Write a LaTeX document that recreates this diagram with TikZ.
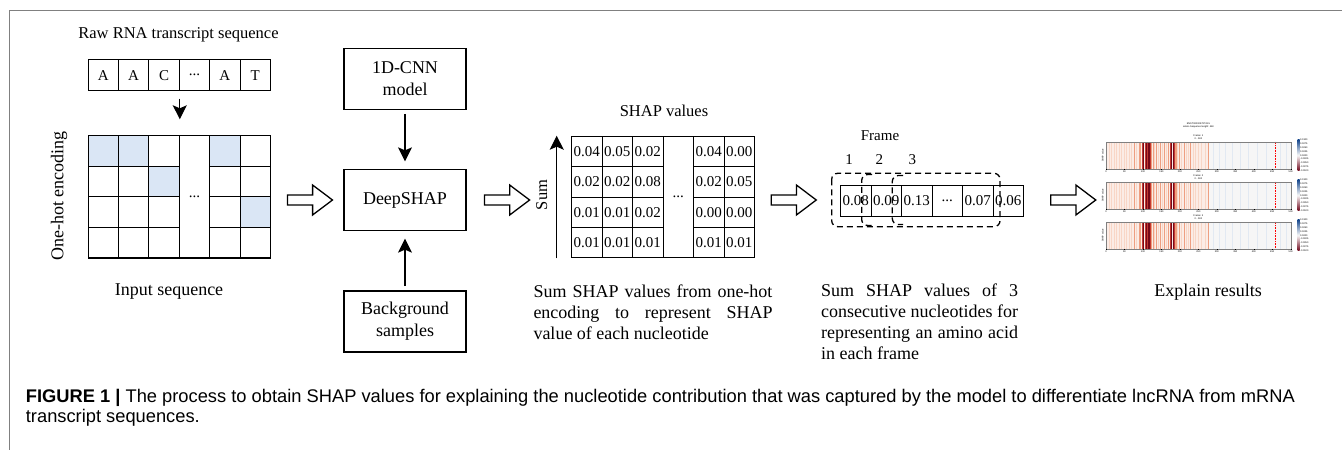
\documentclass[tikz,border=0pt]{standalone}
\usepackage{fontspec}
\setmainfont{Liberation Serif}
\newfontfamily\capfont{Liberation Sans}
\usetikzlibrary{arrows.meta,shapes.arrows,calc}

\definecolor{hotblue}{RGB}{218,230,245}
\definecolor{rd0}{RGB}{251,236,230}
\definecolor{rd1}{RGB}{248,214,198}
\definecolor{rd2}{RGB}{238,158,128}
\definecolor{rd3}{RGB}{196,58,50}
\definecolor{rd4}{RGB}{118,8,26}
\definecolor{bl1}{RGB}{226,233,242}
\definecolor{cbblue}{RGB}{20,70,140}
\definecolor{cbred}{RGB}{110,5,25}

\newcommand\ddd{...}
\newcommand\midfont{\fontsize{16.5}{21}\selectfont}
\newcommand\bigfont{\fontsize{18}{21}\selectfont}
\newcommand\tinyfont{\capfont\fontsize{2.4}{2.9}\selectfont}

\tikzset{
  cell/.style={draw,line width=1.1pt,minimum width=30.4pt,minimum height=30.6pt,inner sep=0pt,anchor=north west,font=\fontsize{15}{18}\selectfont},
  box/.style={draw,line width=1.1pt,minimum width=122pt,minimum height=61pt,align=center,font=\fontsize{18}{22}\selectfont},
  hollow/.style={single arrow,draw,line width=1.3pt,minimum height=45pt,inner xsep=0pt,inner ysep=4.3pt,single arrow head extend=10pt,single arrow tip angle=74},
  lbl/.style={font=\bigfont},
  arr/.style={-{Stealth[length=14pt,width=14pt,inset=3pt]},line width=1.2pt},
  frm/.style={dash pattern=on 6pt off 4pt,line width=1.3pt,rounded corners=6pt}
}

\begin{document}
\begin{tikzpicture}[x=1pt,y=-1pt]
\useasboundingbox (0,0) rectangle (1342,450);
\draw[gray,line width=1.2pt] (9.5,450) -- (9.5,10.5) -- (1342,10.5);

% raw sequence and one-hot grid
\node[font=\midfont] (raw) at (178.5,35) {Raw RNA transcript sequence};
\foreach \t [count=\i] in {A,A,C,\ddd,A,T}
  \node[cell] (s\i) at ({87.5+30.4*(\i-1)},59.3) {\t};
\foreach \r/\c in {1/1,1/2,1/5,2/3,3/6}
  \fill[hotblue] ({87.5+30.4*(\c-1)},{135+30.6*(\r-1)}) rectangle ++(30.4,30.6);
\foreach \r in {1,...,4}
  \foreach \c in {1,2,3,5,6}
    \node[cell] (g-\r-\c) at ({87.5+30.4*(\c-1)},{135+30.6*(\r-1)}) {};
\node[cell,minimum height=122.4pt] (g-dots) at (178.7,135) {\ddd};
\draw[arr,shorten <=7.7pt,shorten >=15.7pt] (s3.south east) -- (g-1-3.north east);
\node[lbl,rotate=90] (onehot) at (59,196) {One-hot encoding};
\node[lbl] (inseq) at (169,292) {Input sequence};

% explainer
\node[box] (cnn) at (405,78.8) {1D-CNN\\model};
\node[box] (deep) at (405,200) {DeepSHAP};
\node[box] (bg) at (405,321.5) {Background\\samples};
\draw[arr,shorten <=4pt,shorten >=7.6pt] (cnn) -- (deep);
\draw[arr,shorten <=4.3pt,shorten >=7.6pt] (bg) -- (deep);

\node[hollow] (h1) at (306.7,200) {};
\node[hollow] (h2) at (503.8,200) {};
\node[hollow] (h3) at (790.5,200) {};
\node[hollow] (h4) at (1070,200) {};

% SHAP value table
\node[font=\midfont] (shaptitle) at (664,110.7) {SHAP values};
\foreach \va/\vb/\vc/\vd/\ve [count=\r] in {0.04/0.05/0.02/0.04/0.00,0.02/0.02/0.08/0.02/0.05,0.01/0.01/0.02/0.00/0.00,0.01/0.01/0.01/0.01/0.01}
  \foreach \col/\val in {1/\va,2/\vb,3/\vc,5/\vd,6/\ve}
    \node[cell,minimum width=30.5pt,minimum height=30.4pt] (v-\r-\col) at ({571+30.5*(\col-1)},{135.7+30.4*(\r-1)}) {\val};
\node[cell,minimum width=30.5pt,minimum height=121.6pt] (v-dots) at (662.5,135.7) {\ddd};
\draw[arr] ([xshift=-14.3pt]v-4-1.south west) -- ([xshift=-14.3pt]v-1-1.north west);
\node[font=\midfont,rotate=90] (sumlbl) at (541.7,195) {Sum};
\node[font=\bigfont,anchor=north west,align=left,inner sep=0pt] (capa) at (533.3,285)
  {\makebox[239pt][s]{Sum SHAP values from one-hot}\\
   \makebox[239pt][s]{encoding to represent SHAP}\\
   value of each nucleotide};

% frames
\node[font=\fontsize{15}{18}\selectfont] (frame) at (880,136) {Frame};
\node[font=\fontsize{15}{18}\selectfont] (fn1) at (849,160) {1};
\node[font=\fontsize{15}{18}\selectfont] (fn2) at (879.3,160) {2};
\node[font=\fontsize{15}{18}\selectfont] (fn3) at (912.3,160) {3};
\foreach \t [count=\i] in {0.08,0.09,0.13,\ddd,0.07,0.06}
  \node[cell,minimum width=30.5pt,minimum height=30.7pt] (f\i) at ({840+30.5*(\i-1)},185) {\t};
\draw[frm] (831.7,173.3) rectangle (1000,226.7);
\draw[frm] (872,174.5) -- (861.7,174.5) -- (861.7,225.5) -- (872,225.5);
\draw[frm] (903,175.5) -- (892.3,175.5) -- (892.3,224.5) -- (903,224.5);
\node[font=\bigfont,anchor=north west,align=left,inner sep=0pt] (capb) at (821,283.5)
  {\makebox[197pt][s]{Sum SHAP values of 3}\\
   \makebox[197pt][s]{consecutive nucleotides for}\\
   \makebox[197pt][s]{representing an amino acid}\\
   in each frame};

% explanation plots
\node[font=\tinyfont,align=center] (ptitle) at (1198.4,125) {ENST00000378733.5\\amino Sequence length: 460};
\foreach \n/\py in {1/141.7,2/181.7,3/221.7} {
  \fill[rd0] (1106,\py) rectangle (1209,{\py+27.6});
  \fill[gray!7] (1209,\py) rectangle (1290.7,{\py+27.6});
  \foreach \s/\w/\cl in {0/2/rd1,8/1/rd1,14/2/rd1,22/1/rd1,27/2/rd1,35/1/rd1,41/2/rd1,48/1/rd1,55/2/rd1,62/1/rd1,68/2/rd1,75/1/rd2,82/2/rd1,88/2/rd2,93/2/rd2,97/3/rd3,100/4/rd4,105/2/rd3,108/3/rd4,112/2/rd3,115/3/rd4,119/2/rd3,122/3/rd2,126/4/rd2,131/2/rd1,136/3/rd2,141/2/rd1,146/3/rd2,152/2/rd1,157/2/rd2,163/2/rd1,168/2/rd2,172/2/rd3,175/4/rd4,180/3/rd4,184/2/rd3,188/3/rd2,193/2/rd1,198/3/rd2,204/2/rd1,210/2/rd2,216/2/rd1,222/2/rd1,228/3/rd2,235/2/rd1,242/2/rd1,250/2/rd1,258/2/rd1,268/2/rd1,276/3/rd2,290/2/bl1,305/2/bl1,322/3/bl1,340/2/bl1,362/2/bl1,385/3/bl1,410/2/bl1,432/2/bl1,470/2/bl1,488/2/bl1}
    \fill[\cl] ({1106+0.3694*\s},\py) rectangle ++({0.3694*\w},27.6);
  \draw[red,dash pattern=on 1pt off 0.6pt,line width=0.4pt] ({1106+0.3694*459},\py) -- ++(0,27.6);
  \draw[gray,line width=0.4pt] (1106,\py) rectangle ++(184.7,27.6);
  \foreach \t in {0,50,...,500} {
    \draw[line width=0.2pt] ({1106+0.3694*\t},{\py+27.6}) -- ++(0,0.8);
    \node[font=\tinyfont,inner sep=0pt] at ({1106+0.3694*\t},{\py+30}) {\t};
  }
  \node[font=\tinyfont,rotate=90,inner sep=0pt] at (1102.7,{\py+13.8}) {SHAP value};
  \node[font=\tinyfont,align=center,inner sep=0pt] at (1198.4,{\py-4.5}) {Frame: \n\\0 - 500};
  \shade[top color=cbblue,bottom color=cbred,middle color=white!94!gray] (1297.5,{\py-2}) rectangle ++(2,31);
  \foreach \lab [count=\k] in {0.0100,0.0075,0.0050,0.0025,0.0000,-0.0025,-0.0050,-0.0075,-0.0100}
    \node[font=\tinyfont,anchor=west,inner sep=0pt] at (1300,{\py-2+(\k-1)*31/8}) {\lab};
}
\node[lbl] (explain) at (1208,291.7) {Explain results};

% caption
\node[font=\capfont\fontsize{18.3}{22}\selectfont,anchor=west,inner sep=0pt] (figcap) at (25.7,398)
  {\textbf{FIGURE 1 |} The process to obtain SHAP values for explaining the nucleotide contribution that was captured by the model to differentiate lncRNA from mRNA};
\node[font=\capfont\fontsize{18.3}{22}\selectfont,anchor=west,inner sep=0pt] (figcap2) at (25.7,418) {transcript sequences.};
\end{tikzpicture}
\end{document}
